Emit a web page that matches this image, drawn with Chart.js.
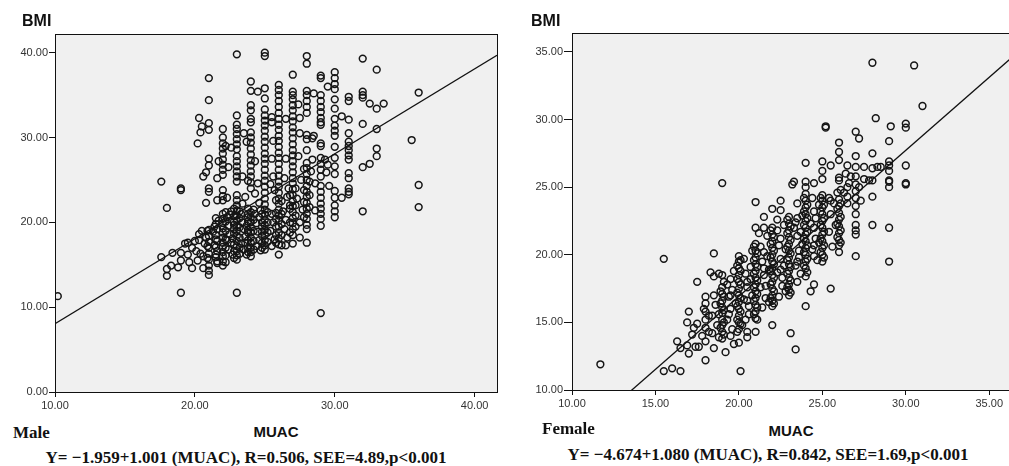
<!DOCTYPE html>
<html>
<head>
<meta charset="utf-8">
<script src="https://cdn.jsdelivr.net/npm/chart.js@4/dist/chart.umd.min.js"></script>
<style>
  html, body { margin:0; padding:0; background:#fff; overflow:hidden; width:1009px; height:466px; }
  .abs { position:absolute; white-space:nowrap; }
  .sans { font-family:"Liberation Sans", Arial, sans-serif; font-weight:bold; color:#111; }
  .serif { font-family:"Liberation Serif", "Times New Roman", serif; font-weight:bold; color:#111; line-height:17px; font-size:17px; }
  canvas { position:absolute; }
</style>
</head>
<body>
<canvas id="male" width="505" height="420" style="left:0;top:0;width:505px;height:420px"></canvas>
<canvas id="female" width="505" height="420" style="left:510px;top:0;width:505px;height:420px"></canvas>

<div class="abs sans" id="yl1" style="left:22px;top:13px;font-size:16px;line-height:16px"></div>
<div class="abs sans" id="xl1" style="left:276px;top:424px;font-size:15px;line-height:15px;transform:translateX(-50%)"></div>
<div class="abs serif" id="g1" style="left:13px;top:424px"></div>
<div class="abs serif" id="eq1" style="left:246px;top:449px;transform:translateX(-50%)"></div>

<div class="abs sans" id="yl2" style="left:531px;top:13px;font-size:16px;line-height:16px"></div>
<div class="abs sans" id="xl2" style="left:791px;top:423px;font-size:15px;line-height:15px;transform:translateX(-50%)"></div>
<div class="abs serif" id="g2" style="left:542px;top:420px"></div>
<div class="abs serif" id="eq2" style="left:768px;top:446px;transform:translateX(-50%)"></div>

<script>
// ---------- DATA ----------
const yAxisTitle = "BMI";
const xAxisTitle = "MUAC";
const groupNames = ["Male", "Female"];
const equations = [
  "Y= \u22121.959+1.001 (MUAC), R=0.506, SEE=4.89,p<0.001",
  "Y= \u22124.674+1.080 (MUAC), R=0.842, SEE=1.69,p<0.001"
];
const maleFit = [-1.959, 1.001];     // intercept, slope
const femaleFit = [-4.674, 1.080];

const maleXTicks = [10, 20, 30, 40];
const maleYTicks = [0, 10, 20, 30, 40];
const femaleXTicks = [10, 15, 20, 25, 30, 35];
const femaleYTicks = [10, 15, 20, 25, 30, 35];

// [MUAC, BMI]
const malePoints = [
[10.2,11.3],
[17.6,24.8],[18.0,21.7],[17.6,15.9],[18.0,14.5],[18.0,13.7],[18.3,14.9],[18.8,14.7],[18.4,16.4],
[19.0,24.0],[19.0,23.8],[19.0,11.7],[19.0,15.5],[19.0,16.4],[19.3,17.5],[19.5,16.2],[19.6,15.3],[19.8,14.6],[19.8,17.0],[19.5,17.6],
[20.2,29.3],[20.3,32.3],[20.5,31.3],[20.4,30.6],[20.6,25.4],[20.8,25.9],[20.8,22.3],[20.5,19.0],[20.3,17.9],[20.1,16.6],[20.6,16.0],[20.2,15.5],[20.8,18.2],[20.9,17.2],
[20.0,17.8],[20.3,18.6],[20.7,17.5],[20.4,16.3],[20.9,15.8],[20.6,14.6],[20.9,19.0],
[21.0,37.0],[21.0,34.4],[21.0,31.7],[21.0,30.9],[21.0,27.5],[21.0,26.7],[21.0,24.0],[21.0,23.6],[21.0,19.1],[21.0,18.4],[21.0,17.7],[21.0,17.0],[21.0,16.3],[21.0,15.6],[21.0,14.9],[21.0,14.3],[21.0,13.8],
[21.3,18.9],[21.4,17.3],[21.5,16.2],[21.6,15.2],[21.4,19.5],[21.7,27.2],[21.6,25.2],[21.6,22.6],[21.5,18.0],[21.7,20.2],
[21.5,20.5],[21.5,19.8],[21.6,19.2],[21.5,18.5],[21.6,17.8],[21.5,17.1],[21.6,16.6],[21.5,15.9],[21.6,15.4],
[22.0,31.0],[22.0,30.0],[22.0,29.3],[22.0,28.7],[22.0,28.1],[22.0,27.4],[22.0,26.8],[22.0,26.2],[22.0,25.6],[22.0,23.8],[22.0,23.1],[22.0,22.6],[22.0,21.0],[22.0,20.4],[22.0,19.9],[22.0,19.3],[22.0,18.8],[22.0,18.2],[22.0,17.6],[22.0,17.1],[22.0,16.5],[22.0,16.0],[22.0,15.4],[22.0,14.9],
[22.3,22.9],[22.6,28.8],[22.4,26.5],[22.2,29.0],
[22.3,20.6],[22.4,19.6],[22.5,18.6],[22.6,17.6],[22.4,16.8],[22.7,16.2],[22.5,20.9],[22.8,19.2],[22.7,18.1],[22.3,17.9],[22.6,21.3],[22.8,20.1],
[22.2,21.2],[22.2,20.1],[22.2,19.0],[22.2,18.0],[22.2,17.0],[22.2,16.1],[22.2,15.3],
[22.8,21.6],[22.8,20.7],[22.8,19.7],[22.8,18.7],[22.8,17.4],[22.8,16.6],[22.8,15.8],
[23.0,39.8],[23.0,32.6],[23.0,31.5],[23.0,31.0],[23.0,30.4],[23.0,29.8],[23.0,29.2],[23.0,28.6],[23.0,27.8],[23.0,27.2],[23.0,26.6],[23.0,26.0],[23.0,25.4],[23.0,24.8],[23.0,23.2],[23.0,22.6],[23.0,22.0],[23.0,21.4],[23.0,20.8],[23.0,20.2],[23.0,19.6],[23.0,19.0],[23.0,18.4],[23.0,17.8],[23.0,17.2],[23.0,16.6],[23.0,16.1],[23.0,15.6],[23.0,11.7],
[23.2,21.3],[23.2,20.5],[23.2,19.4],[23.2,18.2],[23.2,17.0],[23.2,16.3],
[23.5,30.5],[23.4,25.4],[23.6,23.0],[23.3,21.0],[23.4,20.0],[23.5,19.2],[23.6,18.3],[23.3,17.5],[23.5,16.8],[23.7,16.2],[23.8,21.6],[23.8,20.6],[23.7,19.6],[23.8,18.8],[23.6,17.6],[23.4,22.2],[23.8,24.9],[23.7,29.5],
[23.8,21.0],[23.8,20.1],[23.8,19.1],[23.8,17.9],[23.8,17.0],[23.8,16.5],
[24.0,36.6],[24.0,35.5],[24.0,33.8],[24.0,33.2],[24.0,32.2],[24.0,31.8],[24.0,30.6],[24.0,30.0],[24.0,29.4],[24.0,28.7],[24.0,28.0],[24.0,27.3],[24.0,26.7],[24.0,26.0],[24.0,25.4],[24.0,24.7],[24.0,24.0],[24.0,21.2],[24.0,20.6],[24.0,20.0],[24.0,19.4],[24.0,18.8],[24.0,18.2],[24.0,17.6],[24.0,17.0],[24.0,16.5],[24.0,16.0],
[24.2,21.5],[24.2,20.3],[24.2,19.0],[24.2,17.8],[24.2,16.8],
[24.5,35.4],[24.3,27.2],[24.5,24.6],[24.3,21.0],[24.4,19.9],[24.5,18.9],[24.6,17.9],[24.4,17.2],[24.7,16.7],[24.6,20.6],[24.8,19.5],[24.8,18.4],[24.7,21.4],[24.6,22.3],[24.3,23.4],
[24.8,21.0],[24.8,20.0],[24.8,18.9],[24.8,17.6],[24.8,17.0],
[25.0,40.0],[25.0,39.6],[25.0,35.8],[25.0,34.6],[25.0,33.3],[25.0,32.6],[25.0,32.0],[25.0,31.4],[25.0,30.8],[25.0,30.1],[25.0,29.5],[25.0,28.8],[25.0,28.1],[25.0,27.5],[25.0,26.9],[25.0,26.2],[25.0,25.5],[25.0,24.9],[25.0,24.2],[25.0,23.5],[25.0,22.8],[25.0,22.1],[25.0,21.5],[25.0,20.9],[25.0,20.3],[25.0,19.7],[25.0,19.1],[25.0,18.5],[25.0,17.9],[25.0,17.3],[25.0,16.8],
[25.2,21.2],[25.2,20.0],[25.2,18.8],[25.2,17.7],
[25.5,32.4],[25.5,31.8],[25.6,29.6],[25.5,27.5],[25.4,24.5],[25.5,21.0],[25.6,20.0],[25.4,19.0],[25.7,18.0],[25.5,17.2],[25.8,22.6],[25.7,23.8],[25.8,19.5],[25.6,25.4],
[25.8,21.1],[25.8,20.4],[25.8,18.5],[25.8,17.6],
[26.0,36.2],[26.0,35.6],[26.0,35.0],[26.0,34.3],[26.0,33.6],[26.0,32.9],[26.0,32.2],[26.0,31.5],[26.0,30.9],[26.0,30.2],[26.0,29.6],[26.0,28.9],[26.0,28.2],[26.0,27.6],[26.0,26.9],[26.0,26.2],[26.0,25.5],[26.0,24.8],[26.0,24.2],[26.0,23.5],[26.0,22.8],[26.0,22.2],[26.0,21.5],[26.0,20.8],[26.0,20.2],[26.0,19.5],[26.0,18.8],[26.0,18.1],[26.0,17.4],[26.0,16.2],
[26.2,22.5],[26.2,21.0],[26.2,19.8],[26.2,18.5],[26.2,17.3],
[26.5,32.2],[26.5,27.5],[26.4,25.2],[26.6,23.0],[26.3,21.3],[26.5,20.3],[26.4,19.2],[26.6,18.2],[26.5,17.3],[26.8,22.0],[26.7,24.0],
[26.8,23.2],[26.8,21.6],[26.8,20.0],[26.8,18.8],
[27.0,37.4],[27.0,35.4],[27.0,35.0],[27.0,34.5],[27.0,33.8],[27.0,33.2],[27.0,32.5],[27.0,31.9],[27.0,31.2],[27.0,30.6],[27.0,29.9],[27.0,29.2],[27.0,28.5],[27.0,27.9],[27.0,27.2],[27.0,26.6],[27.0,25.9],[27.0,25.2],[27.0,24.6],[27.0,23.9],[27.0,23.2],[27.0,22.5],[27.0,21.9],[27.0,21.2],[27.0,20.5],[27.0,19.9],[27.0,19.2],[27.0,18.5],[27.0,17.5],
[27.2,24.0],[27.2,22.0],[27.2,20.8],[27.2,19.5],
[27.5,32.3],[27.5,30.5],[27.4,27.8],[27.6,25.0],[27.5,18.2],[27.3,22.8],[27.7,21.5],[27.5,20.0],[27.8,26.3],[27.4,33.9],
[27.8,23.8],[27.8,22.4],[27.8,20.6],
[28.0,39.6],[28.0,38.7],[28.0,35.5],[28.0,35.0],[28.0,34.3],[28.0,33.6],[28.0,32.9],[28.0,30.3],[28.0,29.8],[28.0,28.5],[28.0,27.0],[28.0,26.4],[28.0,25.7],[28.0,25.0],[28.0,24.3],[28.0,23.6],[28.0,23.0],[28.0,22.3],[28.0,21.6],[28.0,21.0],[28.0,20.4],[28.0,19.7],[28.0,19.2],[28.0,17.6],
[28.2,24.8],[28.2,23.2],[28.2,21.8],
[28.5,35.2],[28.5,30.2],[28.4,27.4],[28.6,21.4],[28.3,26.0],[28.6,24.6],[28.4,29.9],
[29.0,37.3],[29.0,37.0],[29.0,35.0],[29.0,34.3],[29.0,33.6],[29.0,33.0],[29.0,32.3],[29.0,31.8],[29.0,31.5],[29.0,29.3],[29.0,29.0],[29.0,27.6],[29.0,26.9],[29.0,26.2],[29.0,25.4],[29.0,24.3],[29.0,23.6],[29.0,22.9],[29.0,22.2],[29.0,21.6],[29.0,21.0],[29.0,20.4],[29.0,19.6],[29.0,9.3],
[29.5,36.0],[29.5,26.8],[29.4,25.9],[29.6,24.3],[29.3,27.4],
[30.0,37.7],[30.0,37.0],[30.0,36.3],[30.0,35.7],[30.0,34.5],[30.0,33.4],[30.0,32.2],[30.0,31.4],[30.0,30.8],[30.0,30.2],[30.0,28.9],[30.0,27.6],[30.0,26.6],[30.0,25.7],[30.0,23.7],[30.0,22.9],[30.0,22.0],[30.0,21.3],[30.0,20.6],
[30.5,32.5],[30.5,22.9],
[31.0,34.8],[31.0,34.3],[31.0,32.1],[31.0,30.5],[31.0,29.5],[31.0,29.0],[31.0,28.5],[31.0,27.9],[31.0,27.4],[31.0,25.8],[31.0,25.2],[31.0,24.0],[31.0,23.6],[31.0,23.3],
[32.0,39.3],[32.0,35.4],[32.0,35.0],[32.0,34.7],[32.0,31.6],[32.0,26.5],[32.0,21.3],
[32.5,34.0],[32.5,26.9],
[33.0,38.0],[33.0,33.4],[33.0,31.0],[33.0,28.7],[33.0,27.8],
[33.5,34.0],
[35.5,29.7],
[36.0,35.3],[36.0,24.4],[36.0,21.8]
];

// [MUAC, BMI]
const femalePoints = [
[11.7,11.9],[15.5,19.7],[15.5,11.4],[16.0,11.6],[16.5,11.4],[16.3,13.6],[16.5,13.1],
[17.0,15.8],[16.9,15.0],[16.9,13.3],[17.0,12.7],[17.2,14.1],[17.5,18.0],[17.4,13.2],[17.6,13.2],[17.3,14.6],[17.5,14.9],
[17.8,14.0],[18.2,15.5],[18.4,14.2],[17.9,16.0],
[18.0,16.9],[18.0,16.4],[18.0,15.8],[18.0,15.2],[18.0,14.6],[18.0,13.6],[18.0,12.2],[18.2,14.3],[18.3,18.7],[18.5,18.4],[18.5,20.1],[18.5,13.1],[18.4,15.5],[18.6,16.3],[18.7,14.8],[18.5,17.0],[18.8,18.6],
[18.9,17.3],[18.9,16.4],[18.8,15.6],[18.9,14.6],[18.8,13.9],[19.1,18.0],[19.1,16.9],[19.1,15.9],[19.1,15.0],[19.1,14.1],
[19.0,25.3],[19.0,18.5],[19.0,17.6],[19.0,17.1],[19.0,16.6],[19.0,16.1],[19.0,15.7],[19.0,15.2],[19.0,14.8],[19.0,14.3],[19.0,13.8],[19.2,12.8],
[19.3,17.8],[19.4,16.9],[19.5,16.0],[19.3,15.2],[19.6,14.5],[19.5,14.0],[19.7,18.8],[19.6,17.4],[19.4,15.6],[19.8,16.4],[19.7,13.4],[19.5,18.2],[19.5,17.0],
[19.9,19.2],[19.9,18.2],[19.9,17.2],[19.9,16.2],[19.9,15.2],[19.9,14.3],[20.1,19.6],[20.1,18.8],[20.1,17.8],[20.1,16.8],[20.1,15.8],[20.1,14.9],
[20.0,19.9],[20.0,19.5],[20.0,19.0],[20.0,18.5],[20.0,18.0],[20.0,17.5],[20.0,17.0],[20.0,16.5],[20.0,16.0],[20.0,15.5],[20.0,15.0],[20.0,14.5],[20.0,13.5],[20.1,11.4],
[20.3,19.7],[20.4,18.6],[20.5,17.6],[20.3,16.7],[20.6,15.6],[20.5,14.3],[20.5,13.9],[20.7,19.1],[20.8,17.0],[20.6,16.2],[20.4,15.2],[20.7,18.2],[20.8,20.3],[20.2,14.8],[20.5,18.0],[20.5,16.6],
[20.9,20.6],[20.9,19.6],[20.9,18.6],[20.9,17.6],[20.9,16.6],[20.9,15.6],[21.1,20.1],[21.1,19.1],[21.1,18.1],[21.1,17.1],[21.1,16.1],[21.1,15.2],
[21.0,23.9],[21.0,22.0],[21.0,20.8],[21.0,20.3],[21.0,19.8],[21.0,19.3],[21.0,18.8],[21.0,18.3],[21.0,17.8],[21.0,17.3],[21.0,16.8],[21.0,16.3],[21.0,15.8],[21.0,15.3],[21.0,14.3],
[21.5,22.8],[21.5,22.0],[21.3,20.6],[21.4,19.5],[21.5,18.5],[21.3,17.6],[21.6,16.8],[21.4,16.1],[21.7,21.4],[21.7,19.9],[21.8,18.9],[21.6,17.7],[21.8,16.5],[21.2,21.6],[21.5,20.2],[21.5,19.0],
[21.9,21.8],[21.9,20.8],[21.9,19.8],[21.9,18.8],[21.9,17.8],[21.9,16.8],[22.1,21.3],[22.1,20.3],[22.1,19.3],[22.1,18.3],[22.1,17.3],[22.1,16.4],
[22.0,23.4],[22.0,22.0],[22.0,21.5],[22.0,21.0],[22.0,20.5],[22.0,20.0],[22.0,19.5],[22.0,19.0],[22.0,18.5],[22.0,18.0],[22.0,17.5],[22.0,17.0],[22.0,16.6],[22.0,16.2],[22.0,14.8],
[22.5,24.0],[22.5,23.3],[22.3,21.8],[22.4,20.7],[22.5,19.7],[22.3,18.7],[22.6,17.7],[22.4,16.9],[22.7,22.2],[22.8,20.4],[22.7,19.2],[22.6,18.3],[22.8,17.3],[22.3,22.6],[22.5,21.2],[22.5,18.9],
[22.9,22.6],[22.9,21.6],[22.9,20.6],[22.9,19.6],[22.9,18.6],[22.9,17.6],[23.1,22.1],[23.1,21.1],[23.1,20.1],[23.1,19.1],[23.1,18.1],[23.1,17.2],
[23.0,22.8],[23.2,25.2],[23.3,25.4],[23.1,14.2],[23.4,13.0],[23.0,22.3],[23.0,21.8],[23.0,21.3],[23.0,20.8],[23.0,20.3],[23.0,19.8],[23.0,19.3],[23.0,18.8],[23.0,18.3],[23.0,17.8],[23.0,17.4],[23.0,17.0],
[23.5,23.8],[23.4,22.4],[23.5,21.4],[23.6,20.3],[23.4,19.2],[23.7,18.6],[23.5,18.0],[23.8,22.9],[23.7,21.7],[23.6,19.8],[23.8,20.8],[23.3,22.0],[23.5,22.7],[23.5,19.5],
[23.9,24.2],[23.9,23.2],[23.9,22.2],[23.9,21.2],[23.9,20.2],[23.9,19.2],[24.1,23.7],[24.1,22.7],[24.1,21.7],[24.1,20.7],[24.1,19.7],[24.1,18.7],
[24.0,26.8],[24.0,25.4],[24.0,25.0],[24.0,24.5],[24.0,24.0],[24.0,23.5],[24.0,23.0],[24.0,22.5],[24.0,22.0],[24.0,21.5],[24.0,21.0],[24.0,20.5],[24.0,20.0],[24.0,19.5],[24.0,19.0],[24.0,18.4],[24.0,16.2],[24.3,17.3],[24.5,17.8],[24.5,25.3],
[24.4,24.2],[24.5,23.2],[24.3,22.3],[24.6,21.2],[24.4,20.4],[24.7,19.6],[24.8,23.7],[24.6,22.7],[24.8,20.9],[24.5,19.9],[24.5,22.0],[24.5,20.7],
[24.9,24.2],[24.9,23.2],[24.9,22.2],[24.9,21.2],[24.9,20.2],[25.1,23.7],[25.1,22.7],[25.1,21.7],[25.1,20.7],[25.1,19.8],
[25.0,26.9],[25.0,26.2],[25.0,25.6],[25.0,24.4],[25.0,24.0],[25.0,23.5],[25.0,23.0],[25.0,22.5],[25.0,22.0],[25.0,21.5],[25.0,21.0],[25.0,20.5],[25.0,20.0],[25.0,19.5],[25.2,29.5],[25.2,29.4],[25.5,17.5],[25.5,26.6],
[25.4,24.2],[25.5,23.0],[25.4,21.7],[25.6,20.6],[25.7,23.8],[25.8,22.2],[25.5,24.0],
[25.9,24.6],[25.9,23.4],[25.9,22.3],[25.9,21.3],[26.1,24.8],[26.1,23.8],[26.1,22.8],[26.1,21.8],[26.1,20.9],
[26.0,28.3],[26.0,27.6],[26.0,27.0],[26.0,25.7],[26.0,25.5],[26.0,24.1],[26.0,23.6],[26.0,23.1],[26.0,22.6],[26.0,22.1],[26.0,21.6],[26.0,21.1],[26.0,20.7],[26.0,20.2],
[26.5,26.6],[26.5,23.8],[26.4,26.0],[26.6,25.3],[26.3,24.6],[26.7,25.8],[26.5,25.0],[26.5,24.3],
[27.0,29.1],[27.2,28.6],[27.0,27.3],[27.0,26.5],[27.0,25.8],[27.0,25.2],[27.0,24.7],[27.0,24.2],[27.0,23.6],[27.0,23.0],[27.0,22.2],[27.0,21.8],[27.0,21.5],[27.0,19.9],[27.3,24.0],[27.5,26.5],[27.2,25.0],[27.5,25.6],
[28.0,27.5],[28.0,26.4],[28.0,25.5],[28.0,24.3],[28.0,22.2],[28.0,34.2],[28.2,30.1],[28.5,26.5],[27.8,25.5],[28.3,26.5],
[29.1,29.5],[29.0,28.4],[29.0,26.9],[29.0,26.6],[29.0,26.2],[29.0,25.5],[29.0,25.4],[29.0,25.0],[29.0,22.0],[29.0,19.5],
[30.0,29.7],[30.0,29.4],[30.0,26.6],[30.0,25.3],[30.0,25.2],
[30.5,34.0],[31.0,31.0]
];

// ---------- TEXT ----------
document.getElementById('yl1').textContent = yAxisTitle;
document.getElementById('yl2').textContent = yAxisTitle;
document.getElementById('xl1').textContent = xAxisTitle;
document.getElementById('xl2').textContent = xAxisTitle;
document.getElementById('g1').textContent = groupNames[0];
document.getElementById('g2').textContent = groupNames[1];
document.getElementById('eq1').textContent = equations[0];
document.getElementById('eq2').textContent = equations[1];

// ---------- CHARTS ----------
Chart.defaults.font.family = '"Liberation Sans", Arial, sans-serif';
Chart.defaults.font.size = 11;
Chart.defaults.color = '#333';

const plotFrame = {
  id: 'plotFrame',
  beforeDraw(chart) {
    const a = chart.chartArea, c = chart.ctx;
    c.save(); c.fillStyle = '#f0f0f0';
    c.fillRect(a.left, a.top, a.right - a.left, a.bottom - a.top);
    c.restore();
  },
  afterDraw(chart) {
    const a = chart.chartArea, c = chart.ctx;
    c.save(); c.strokeStyle = '#111'; c.lineWidth = 1;
    c.strokeRect(Math.round(a.left) + 0.5, Math.round(a.top) + 0.5,
                 Math.round(a.right - a.left), Math.round(a.bottom - a.top));
    c.restore();
  }
};

function makeChart(id, pts, fit, xr, yr, xt, yt, yW, xH, pad, ytl) {
  const line = [
    { x: xr[0], y: fit[0] + fit[1] * xr[0] },
    { x: xr[1], y: fit[0] + fit[1] * xr[1] }
  ];
  return new Chart(document.getElementById(id), {
    type: 'scatter',
    data: {
      datasets: [
        {
          data: pts.map(p => ({ x: p[0], y: p[1] })),
          pointStyle: 'circle', pointRadius: 3.4, pointBorderWidth: 1.5,
          borderColor: '#151515', backgroundColor: 'rgba(0,0,0,0)',
          pointHoverRadius: 3.4
        },
        {
          type: 'line', data: line, borderColor: '#111', borderWidth: 1.3,
          pointRadius: 0, fill: false, tension: 0
        }
      ]
    },
    options: {
      responsive: false, animation: false, devicePixelRatio: 1,
      layout: { padding: pad },
      plugins: { legend: { display: false }, tooltip: { enabled: false } },
      scales: {
        x: {
          type: 'linear', min: xr[0], max: xr[1],
          afterFit: s => { s.height = xH; },
          afterBuildTicks: s => { s.ticks = xt.map(v => ({ value: v })); },
          ticks: { callback: v => Number(v).toFixed(2), padding: 2, maxRotation: 0, autoSkip: false, color: '#333' },
          grid: { drawOnChartArea: false, drawTicks: true, tickLength: 5, color: '#111', lineWidth: 1 },
          border: { display: false }
        },
        y: {
          type: 'linear', min: yr[0], max: yr[1],
          afterFit: s => { s.width = yW; },
          afterBuildTicks: s => { s.ticks = yt.map(v => ({ value: v })); },
          ticks: { callback: v => Number(v).toFixed(2), padding: 1, autoSkip: false, color: '#333' },
          grid: { drawOnChartArea: false, drawTicks: true, tickLength: ytl, color: '#111', lineWidth: 1 },
          border: { display: false }
        }
      }
    },
    plugins: [plotFrame]
  });
}

makeChart('male', malePoints, maleFit, [10, 41.6], [0, 42.2], maleXTicks, maleYTicks,
          55, 28, { top: 34, right: 8, left: 0, bottom: 0 }, 6);
makeChart('female', femalePoints, femaleFit, [10, 36.25], [10, 36.4], femaleXTicks, femaleYTicks,
          62, 30, { top: 33, right: 3, left: 0, bottom: 0 }, 8);
</script>
</body>
</html>
